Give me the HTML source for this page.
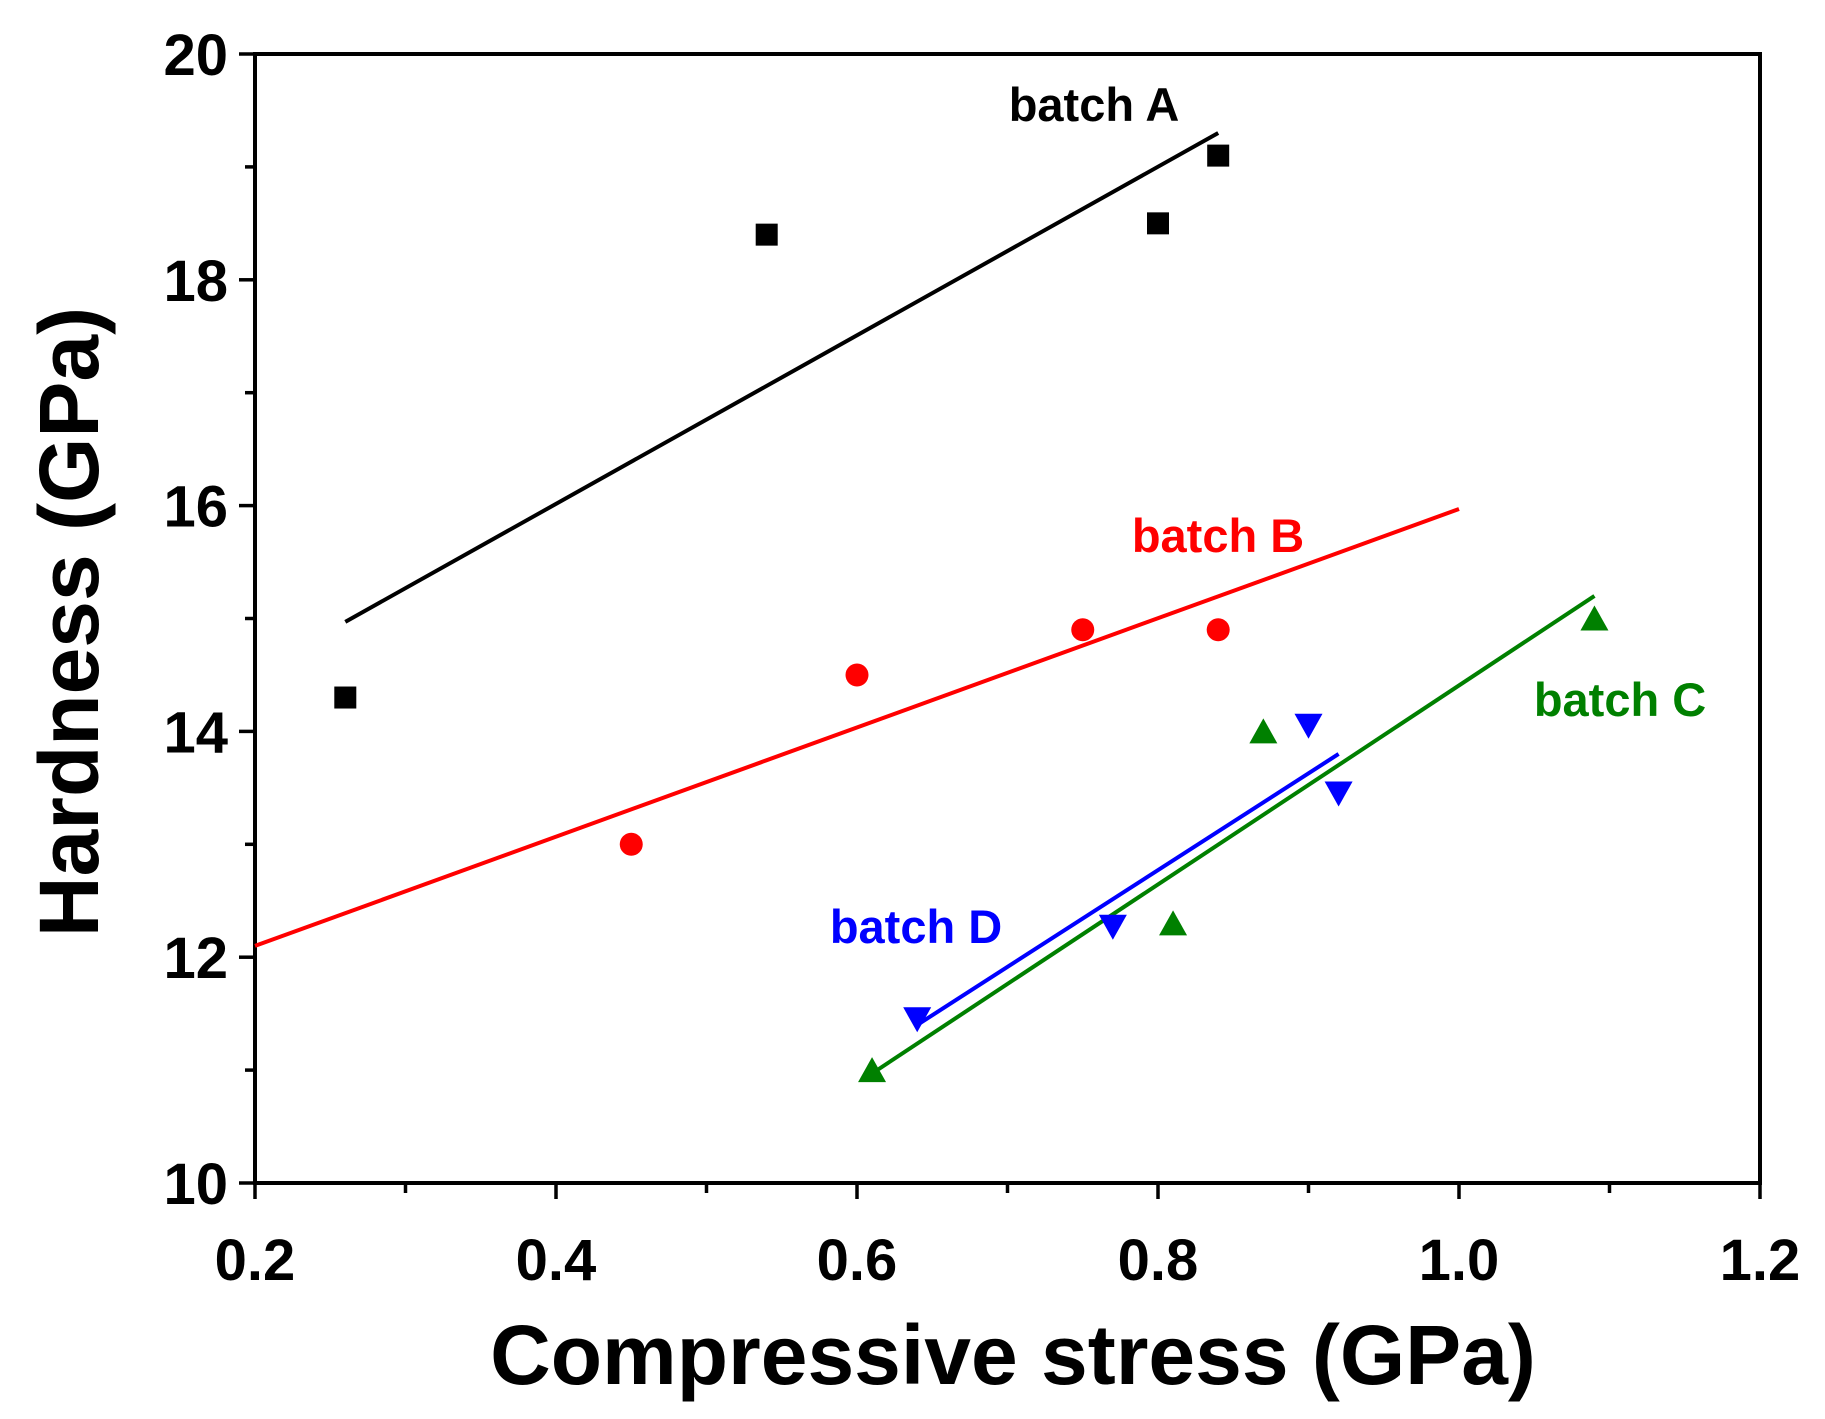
<!DOCTYPE html>
<html><head><meta charset="utf-8"><style>
html,body{margin:0;padding:0;background:#fff;}
svg{display:block;font-family:"Liberation Sans",Arial,sans-serif;font-weight:bold;}
</style></head><body>
<svg id="chart" width="1825" height="1419" viewBox="0 0 1825 1419" xmlns="http://www.w3.org/2000/svg">
<g id="axes"></g>
<g id="fits"></g>
<g id="marks"></g>
<text x="1094" y="121" font-size="47" text-anchor="middle" fill="#000">batch A</text>
<text x="1218" y="552" font-size="47" text-anchor="middle" fill="#ff0000">batch B</text>
<text x="1620" y="716" font-size="47" text-anchor="middle" fill="#008000">batch C</text>
<text x="916" y="943" font-size="47" text-anchor="middle" fill="#0000ff">batch D</text>
<text x="1013" y="1384" font-size="84" text-anchor="middle">Compressive stress (GPa)</text>
<text transform="translate(98,622) rotate(-90)" font-size="84" text-anchor="middle">Hardness (GPa)</text>
</svg>
<script>
const xTicks = [0.2, 0.4, 0.6, 0.8, 1.0, 1.2];
const xTickLabels = ["0.2", "0.4", "0.6", "0.8", "1.0", "1.2"];
const yTicks = [10, 12, 14, 16, 18, 20];
const yTickLabels = ["10", "12", "14", "16", "18", "20"];
const aX = [0.26, 0.54, 0.80, 0.84];
const aY = [14.3, 18.4, 18.5, 19.1];
const bX = [0.45, 0.60, 0.75, 0.84];
const bY = [13.0, 14.5, 14.9, 14.9];
const cX = [0.61, 0.81, 0.87, 1.09];
const cY = [11.0, 12.3, 14.0, 15.0];
const dX = [0.64, 0.77, 0.90, 0.92];
const dY = [11.45, 12.27, 14.05, 13.45];
const aFitX = [0.26, 0.84]; const aFitY = [14.97, 19.3];
const bFitX = [0.2, 1.0]; const bFitY = [12.1, 15.97];
const cFitX = [0.61, 1.09]; const cFitY = [10.97, 15.2];
const dFitX = [0.64, 0.92]; const dFitY = [11.4, 13.8];

const L=255, R=1760, T=54, B=1183;
const sx = v => L + (v-0.2)/(1.2-0.2)*(R-L);
const sy = v => B - (v-10)/(20-10)*(B-T);
const NS="http://www.w3.org/2000/svg";
function mk(tag, attrs, parent){const e=document.createElementNS(NS,tag);for(const k in attrs)e.setAttribute(k,attrs[k]);parent.appendChild(e);return e;}
const axes=document.getElementById('axes');
const frame=mk('rect',{x:L,y:T,width:R-L,height:B-T,fill:'none',stroke:'#000','stroke-width':4},axes);


xTicks.forEach((v,i)=>{
  const t=mk('line',{x1:sx(v),x2:sx(v),y1:B,y2:B+16,stroke:'#000','stroke-width':3.5},axes);
  
  
  if(i<xTicks.length-1){
    const m=mk('line',{x1:sx(v+0.1),x2:sx(v+0.1),y1:B,y2:B+10,stroke:'#000','stroke-width':3.5},axes);
    
    
  }
  const lb=mk('text',{x:sx(v),y:1280,'font-size':58,'text-anchor':'middle'},axes);
  lb.textContent=xTickLabels[i];
  
  
});
yTicks.forEach((v,i)=>{
  const t=mk('line',{x1:L-16,x2:L,y1:sy(v),y2:sy(v),stroke:'#000','stroke-width':3.5},axes);
  
  
  if(i<yTicks.length-1){
    const m=mk('line',{x1:L-10,x2:L,y1:sy(v+1),y2:sy(v+1),stroke:'#000','stroke-width':3.5},axes);
    
    
  }
  const lb=mk('text',{x:228,y:sy(v)+21,'font-size':58,'text-anchor':'end'},axes);
  lb.textContent=yTickLabels[i];
  
  
});
const fits=document.getElementById('fits');
[[aFitX,aFitY,'#000','batch-a-fit'],[bFitX,bFitY,'#ff0000','batch-b-fit'],[cFitX,cFitY,'#008000','batch-c-fit'],[dFitX,dFitY,'#0000ff','batch-d-fit']].forEach(f=>{
  const ln=mk('line',{x1:sx(f[0][0]),y1:sy(f[1][0]),x2:sx(f[0][1]),y2:sy(f[1][1]),stroke:f[2],'stroke-width':4},fits);
  
  
});
const marks=document.getElementById('marks');
aX.forEach((v,i)=>{const x=sx(v),y=sy(aY[i]);
  const e=mk('rect',{x:x-11,y:y-11,width:22,height:22,fill:'#000'},marks);
  
  });
bX.forEach((v,i)=>{
  const e=mk('circle',{cx:sx(v),cy:sy(bY[i]),r:11.5,fill:'#ff0000'},marks);
  
  });
cX.forEach((v,i)=>{const x=sx(v),y=sy(cY[i]);
  const e=mk('polygon',{points:`${x-14},${y+12} ${x+14},${y+12} ${x},${y-13}`,fill:'#008000'},marks);
  
  });
dX.forEach((v,i)=>{const x=sx(v),y=sy(dY[i]);
  const e=mk('polygon',{points:`${x-14},${y-12} ${x+14},${y-12} ${x},${y+13}`,fill:'#0000ff'},marks);
  
  });
</script>
</body></html>
